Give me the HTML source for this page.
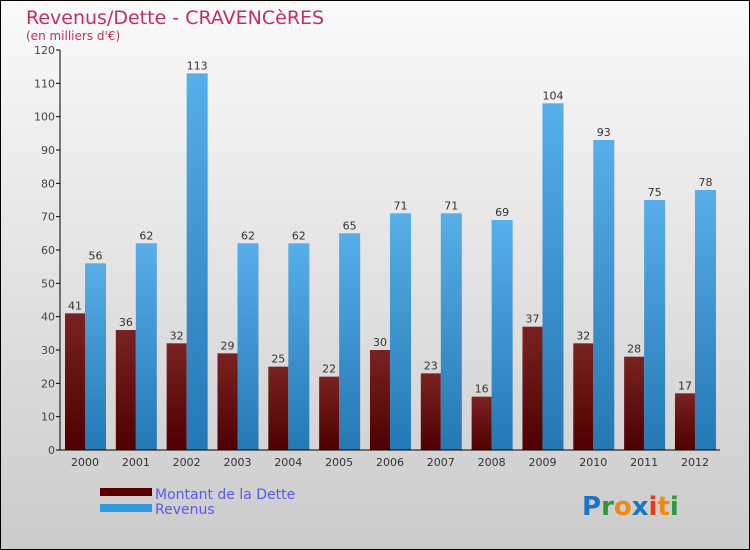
<!DOCTYPE html>
<html><head><meta charset="utf-8"><style>
body{margin:0;width:750px;height:550px;overflow:hidden}
svg{display:block;font-family:"DejaVu Sans","Liberation Sans",sans-serif}
</style></head><body>
<svg width="750" height="550" xmlns="http://www.w3.org/2000/svg">
<defs>
<linearGradient id="bg" x1="0" y1="0" x2="0" y2="1"><stop offset="0" stop-color="#fafafa"/><stop offset="1" stop-color="#cbcbcb"/></linearGradient>
<linearGradient id="gd" x1="0" y1="0" x2="0" y2="1"><stop offset="0" stop-color="#7a2222"/><stop offset="1" stop-color="#4f0000"/></linearGradient>
<linearGradient id="gr" x1="0" y1="0" x2="0" y2="1"><stop offset="0" stop-color="#58aee8"/><stop offset="1" stop-color="#2478b4"/></linearGradient>
</defs>
<rect x="0.5" y="0.5" width="749" height="549" fill="url(#bg)" stroke="#000"/>
<text x="26" y="24" font-size="19" fill="#c0305e">Revenus/Dette - CRAVENCèRES</text>
<text x="26" y="40" font-size="12" fill="#c0305e">(en milliers d'€)</text>
<g id="plot"></g>
<g>
<rect x="100" y="488" width="52" height="8" fill="#5a0000"/>
<text x="155" y="499" font-size="14" fill="#5a5aee">Montant de la Dette</text>
<rect x="100" y="504" width="52" height="8" fill="#3399dd"/>
<text x="155" y="514" font-size="14" fill="#5a5aee">Revenus</text>
</g>
<g font-size="26" font-weight="bold">
<text x="582" y="515"><tspan fill="#1a74c8">P</tspan><tspan fill="#2a9a3a">r</tspan><tspan fill="#f08a10">o</tspan><tspan fill="#1a74c8">x</tspan><tspan fill="#e83a1a">i</tspan><tspan fill="#f08a10">t</tspan><tspan fill="#2a9a3a">i</tspan></text>
</g>
</svg>
<script>
const years=["2000","2001","2002","2003","2004","2005","2006","2007","2008","2009","2010","2011","2012"];
const dette=[41,36,32,29,25,22,30,23,16,37,32,28,17];
const revenus=[56,62,113,62,62,65,71,71,69,104,93,75,78];
const yTicks=[0,10,20,30,40,50,60,70,80,90,100,110,120];
const NS="http://www.w3.org/2000/svg";
const g=document.getElementById('plot');
const y=v=>450-v*400/120;
const x=i=>85+i*50.83;
function mk(t,a,txt){const e=document.createElementNS(NS,t);for(const k in a)e.setAttribute(k,a[k]);if(txt!==undefined)e.textContent=txt;g.appendChild(e);return e;}
yTicks.forEach(v=>{
 const l=mk('line',{x1:56,x2:60,y1:y(v),y2:y(v),stroke:'#000'});
 
 
 const t=mk('text',{x:55,y:y(v)+4,'font-size':11,fill:'#444','text-anchor':'end'},v);
 
 
});
years.forEach((yr,i)=>{
 const cx=x(i);
 const b1=mk('rect',{x:cx-20,y:y(dette[i]),width:20,height:450-y(dette[i]),fill:'url(#gd)'});
 
 
 const b2=mk('rect',{x:cx,y:y(revenus[i]),width:21,height:450-y(revenus[i]),fill:'url(#gr)'});
 
 
 const t1=mk('text',{x:cx-10,y:y(dette[i])-4,'font-size':11,fill:'#333','text-anchor':'middle'},dette[i]);
 
 
 const t2=mk('text',{x:cx+10.5,y:y(revenus[i])-4,'font-size':11,fill:'#333','text-anchor':'middle'},revenus[i]);
 
 
 const tl=mk('text',{x:cx,y:466,'font-size':11,fill:'#333','text-anchor':'middle'},yr);
 
 
});
const ax=mk('line',{x1:60,x2:60,y1:y(120),y2:450,stroke:'#000'});


const bx=mk('line',{x1:60,x2:720,y1:450,y2:450,stroke:'#000'});


</script>
</body></html>
